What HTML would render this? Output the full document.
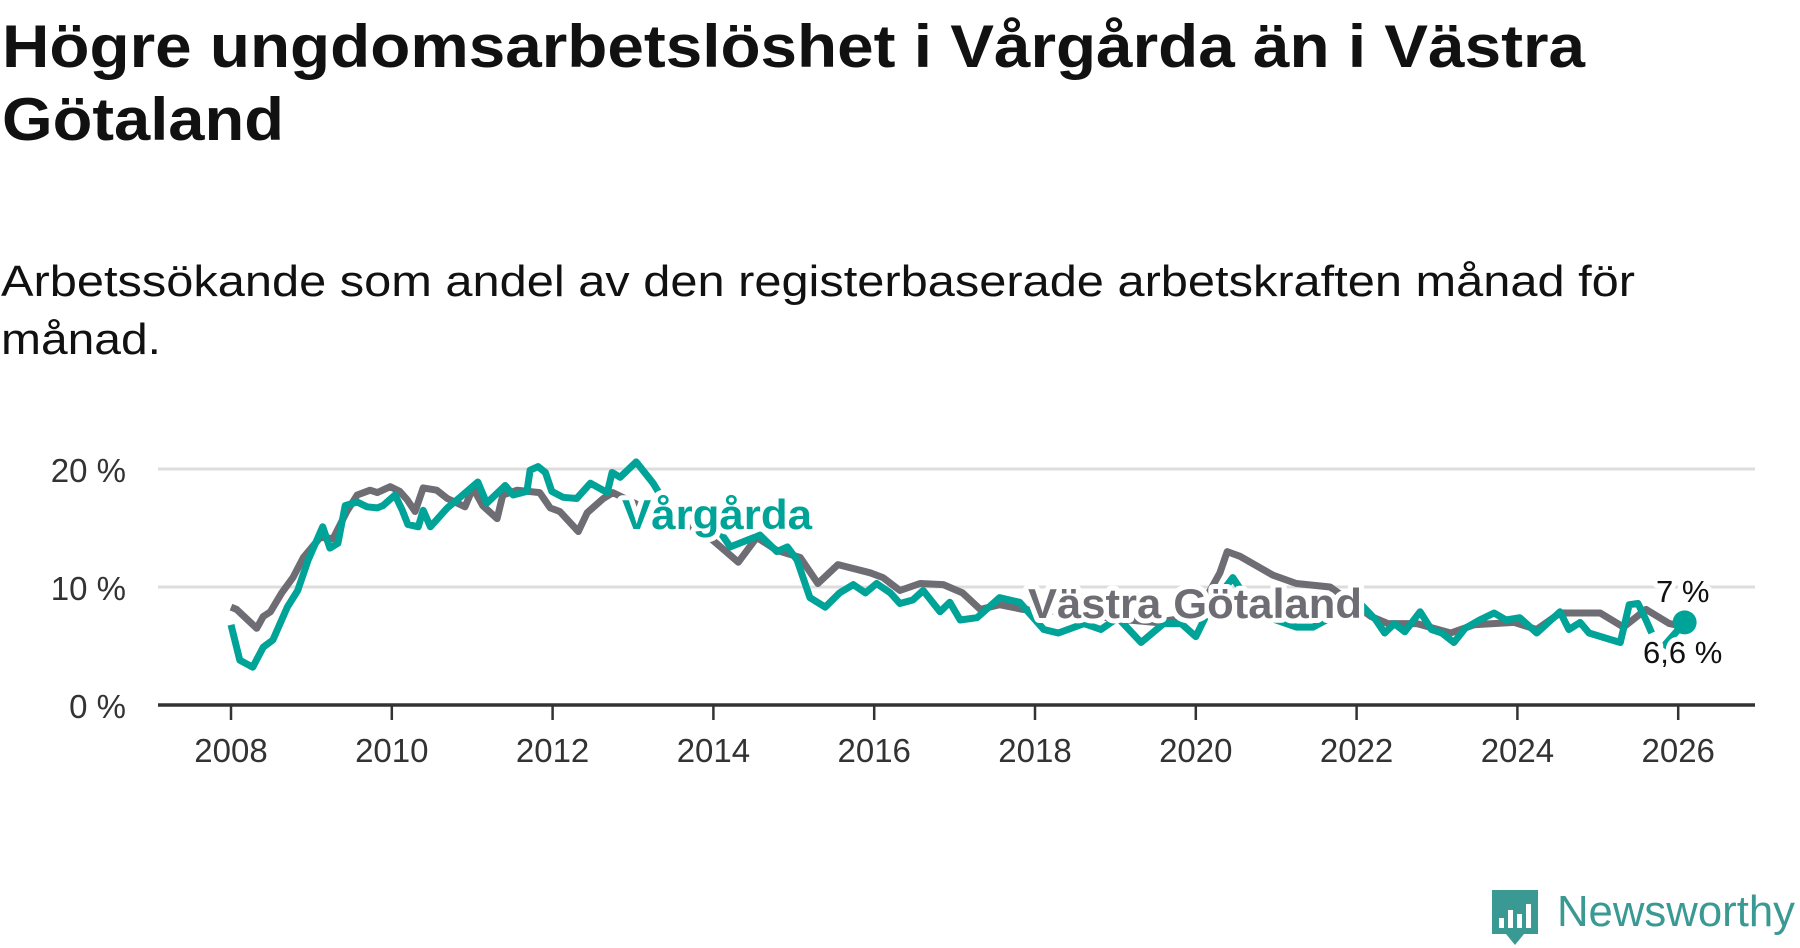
<!DOCTYPE html>
<html><head><meta charset="utf-8">
<style>
html,body{margin:0;padding:0;background:#fff;}
svg{display:block;font-family:"Liberation Sans",sans-serif;}
</style></head>
<body>
<svg id="chart" width="1800" height="948" viewBox="0 0 1800 948">
  <text x="2" y="67" font-size="60" font-weight="bold" fill="#111" textLength="1583" lengthAdjust="spacingAndGlyphs">Högre ungdomsarbetslöshet i Vårgårda än i Västra</text>
  <text x="2" y="140" font-size="60" font-weight="bold" fill="#111" textLength="282" lengthAdjust="spacingAndGlyphs">Götaland</text>
  <text x="1" y="296" font-size="44" fill="#111" textLength="1634" lengthAdjust="spacingAndGlyphs">Arbetssökande som andel av den registerbaserade arbetskraften månad för</text>
  <text x="1" y="354" font-size="44" fill="#111" textLength="160" lengthAdjust="spacingAndGlyphs">månad.</text>
  <g id="grid"></g>
  <g id="series"></g>
  <g id="labels"></g>
  <g>
    <path d="M1492 890 h46 v44 h-14 l-9 11 l-9-11 h-14 z" fill="#3a9a93"/>
    <rect x="1499" y="918" width="5" height="10" fill="#fff"/>
    <rect x="1508" y="910" width="5" height="18" fill="#fff"/>
    <rect x="1517" y="914" width="5" height="14" fill="#fff"/>
    <rect x="1526" y="904" width="5" height="24" fill="#fff"/>
    <text x="1557" y="926" font-size="44" fill="#3a9a93" textLength="238" lengthAdjust="spacingAndGlyphs">Newsworthy</text>
  </g>
</svg>
<script>
const yTicks = [0, 10, 20];
const yTickLabels = ["0 %", "10 %", "20 %"];
const xTicks = [2008, 2010, 2012, 2014, 2016, 2018, 2020, 2022, 2024, 2026];
const vargardaDates = [2008.0,2008.11,2008.27,2008.4,2008.52,2008.7,2008.83,2008.96,2009.14,2009.23,2009.33,2009.42,2009.57,2009.69,2009.82,2009.89,2010.04,2010.13,2010.2,2010.33,2010.39,2010.48,2010.69,2010.85,2011.07,2011.18,2011.41,2011.51,2011.68,2011.72,2011.82,2011.91,2011.99,2012.13,2012.3,2012.47,2012.68,2012.74,2012.84,2013.04,2013.25,2013.5,2013.8,2014.1,2014.21,2014.58,2014.79,2014.92,2015.04,2015.2,2015.39,2015.57,2015.74,2015.89,2016.03,2016.2,2016.32,2016.48,2016.61,2016.82,2016.94,2017.07,2017.28,2017.56,2017.81,2018.11,2018.29,2018.61,2018.82,2019.03,2019.32,2019.6,2019.82,2020.0,2020.18,2020.46,2020.75,2021.25,2021.46,2022.03,2022.24,2022.35,2022.47,2022.6,2022.79,2022.93,2023.06,2023.21,2023.35,2023.53,2023.71,2023.86,2024.03,2024.24,2024.53,2024.64,2024.78,2024.89,2025.18,2025.28,2025.39,2025.5,2025.6,2025.67,2025.75,2025.81,2026.08];
const vargardaValues = [6.8,3.8,3.2,4.9,5.5,8.3,9.7,12.3,15.1,13.3,13.7,16.9,17.2,16.8,16.7,16.9,17.8,16.5,15.3,15.1,16.5,15.1,16.7,17.6,18.9,17.1,18.6,17.8,18.1,19.9,20.2,19.7,18.1,17.6,17.5,18.8,18.0,19.7,19.3,20.6,18.8,16.0,15.5,14.5,13.4,14.4,13.0,13.4,12.3,9.1,8.3,9.5,10.2,9.5,10.3,9.5,8.6,8.9,9.7,7.9,8.7,7.2,7.4,9.1,8.7,6.4,6.1,6.9,6.4,7.4,5.3,6.9,6.9,5.8,8.3,10.8,7.8,6.6,6.6,8.7,7.2,6.1,6.9,6.2,7.9,6.4,6.1,5.3,6.5,7.2,7.8,7.2,7.4,6.1,7.9,6.4,7.0,6.1,5.5,5.3,8.5,8.6,7.2,6.1,null,4.9,7.0];
const vgDates = [2008.0,2008.07,2008.32,2008.4,2008.49,2008.63,2008.77,2008.9,2009.11,2009.27,2009.44,2009.57,2009.73,2009.82,2009.98,2010.1,2010.19,2010.29,2010.39,2010.56,2010.69,2010.91,2011.01,2011.13,2011.31,2011.38,2011.56,2011.84,2011.97,2012.09,2012.32,2012.43,2012.63,2012.75,2013.2,2013.6,2013.9,2014.31,2014.54,2014.79,2015.08,2015.3,2015.55,2015.95,2016.11,2016.32,2016.57,2016.86,2017.1,2017.32,2017.56,2017.85,2018.5,2019.0,2019.5,2020.0,2020.3,2020.39,2020.55,2020.96,2021.25,2021.67,2022.18,2022.39,2022.75,2023.17,2023.46,2023.96,2024.24,2024.53,2025.03,2025.32,2025.6,2025.89,2026.1];
const vgValues = [8.3,8.1,6.5,7.5,7.9,9.5,10.8,12.5,14.2,14.1,16.4,17.8,18.2,18.0,18.5,18.1,17.4,16.4,18.4,18.2,17.5,16.8,18.4,16.9,15.8,17.8,18.2,18.0,16.7,16.4,14.7,16.3,17.5,18.0,16.5,15.5,14.5,12.1,14.2,13.1,12.5,10.3,11.9,11.2,10.8,9.7,10.3,10.2,9.5,8.1,8.5,8.1,7.8,7.3,7.0,7.5,11.2,13.0,12.6,11.0,10.3,10.0,7.5,6.9,6.9,6.1,6.8,7.0,6.4,7.8,7.8,6.6,8.1,6.9,6.6];

const NS = "http://www.w3.org/2000/svg";
const X0 = 158, X1 = 1755;
function xScale(t){ return 231 + 80.4 * (t - 2008); }
function yScale(v){ return 705 - 11.8 * v; }
function mk(tag, attrs, parent){
  const el = document.createElementNS(NS, tag);
  for (const k in attrs) el.setAttribute(k, attrs[k]);
  parent.appendChild(el);
  return el;
}
const grid = document.getElementById('grid');
yTicks.forEach((v, i) => {
  if (v !== 0) {
    const gl = mk('line', {x1: X0, x2: X1, y1: yScale(v), y2: yScale(v), stroke: '#dddddd', 'stroke-width': 3}, grid);
    
    
  }
  const tl = mk('text', {x: 126, y: yScale(v) + 13, 'text-anchor': 'end', 'font-size': 33, fill: '#333'}, grid);
  tl.textContent = yTickLabels[i];
  
  
});
const axis = mk('line', {x1: X0, x2: X1, y1: yScale(0), y2: yScale(0), stroke: '#333', 'stroke-width': 3.5}, grid);


xTicks.forEach(t => {
  const tk = mk('line', {x1: xScale(t), x2: xScale(t), y1: yScale(0), y2: yScale(0) + 15, stroke: '#333', 'stroke-width': 2.5}, grid);
  
  
  const lb = mk('text', {x: xScale(t), y: 762, 'text-anchor': 'middle', 'font-size': 33, fill: '#333'}, grid);
  lb.textContent = String(t);
  
  
});
function pathFor(dates, vals){
  let d = '', pen = false;
  dates.forEach((t, i) => {
    const v = vals[i];
    if (v === null || v === undefined) { pen = false; return; }
    d += (pen ? 'L' : 'M') + xScale(t).toFixed(1) + ' ' + yScale(v).toFixed(1) + ' ';
    pen = true;
  });
  return d;
}
const series = document.getElementById('series');
const pg = mk('path', {d: pathFor(vgDates, vgValues), fill: 'none', stroke: '#6e6d73', 'stroke-width': 7, 'stroke-linejoin': 'round'}, series);


const pv = mk('path', {d: pathFor(vargardaDates, vargardaValues), fill: 'none', stroke: '#00a398', 'stroke-width': 7, 'stroke-linejoin': 'round'}, series);


const lastV = vargardaValues[vargardaValues.length - 1];
const lastT = vargardaDates[vargardaDates.length - 1];
const dot = mk('circle', {cx: xScale(lastT), cy: yScale(lastV), r: 12, fill: '#00a398'}, series);



const labels = document.getElementById('labels');
function lbl(txt, x, y, size, color, bold, name, len){
  const halo = mk('text', {x: x, y: y, 'font-size': size, 'font-weight': bold ? 'bold' : 'normal', fill: '#fff', stroke: '#fff', 'stroke-width': 10, 'stroke-linejoin': 'round'}, labels);
  if (len) { halo.setAttribute('textLength', len); halo.setAttribute('lengthAdjust', 'spacingAndGlyphs'); }
  halo.textContent = txt;
  
  
  const t = mk('text', {x: x, y: y, 'font-size': size, 'font-weight': bold ? 'bold' : 'normal', fill: color}, labels);
  if (len) { t.setAttribute('textLength', len); t.setAttribute('lengthAdjust', 'spacingAndGlyphs'); }
  t.textContent = txt;
  
  
}
lbl('Vårgårda', 622, 529, 42, '#00a398', true, 'vargarda-label', 190);
lbl('Västra Götaland', 1028, 618, 42, '#6e6d73', true, 'vastra-gotaland-label', 334);
lbl('7 %', 1656, 602, 31, '#111', false, 'vargarda-end-value');
lbl('6,6 %', 1643, 663, 31, '#111', false, 'vastra-gotaland-end-value');
</script>
</body></html>
